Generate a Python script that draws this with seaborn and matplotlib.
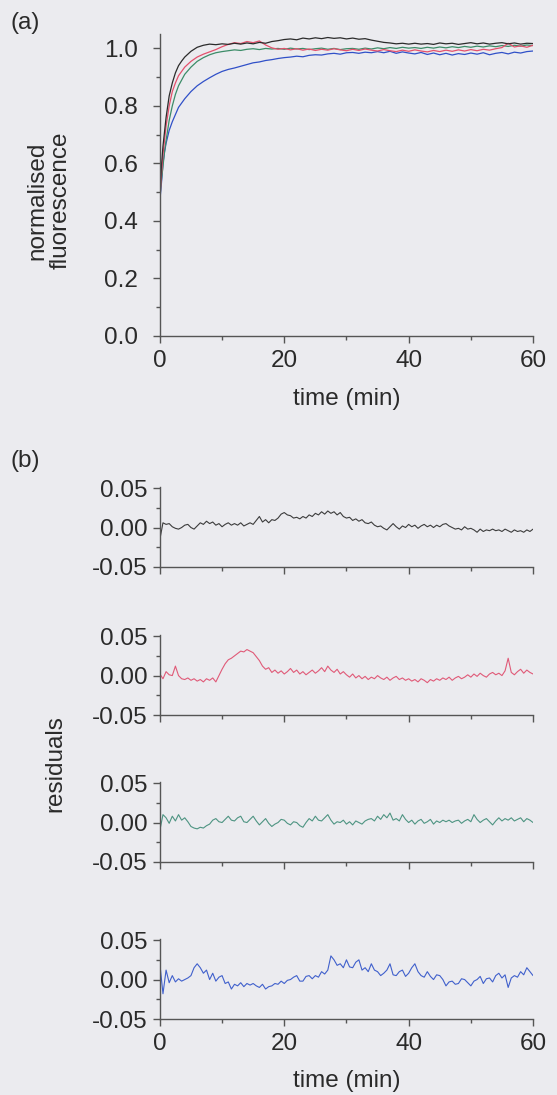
import matplotlib
matplotlib.use('Agg')
import numpy as np
import pandas as pd
import matplotlib.pyplot as plt
import seaborn as sns
from matplotlib.ticker import MultipleLocator, FormatStrFormatter

# --- data ---
TIME_FIT = [0, 0.25, 0.5, 0.75, 1, 1.5, 2, 2.5, 3, 3.5, 4, 5, 6, 7, 8, 9, 10,
            11, 12, 13, 14, 15, 16, 17, 18, 19, 20,
            21, 22, 23, 24, 25, 26, 27, 28, 29, 30,
            31, 32, 33, 34, 35, 36, 37, 38, 39, 40,
            41, 42, 43, 44, 45, 46, 47, 48, 49, 50,
            51, 52, 53, 54, 55, 56, 57, 58, 59, 60]

FLUO_BLACK = [0.48, 0.59, 0.66, 0.71, 0.76, 0.835, 0.88, 0.915, 0.94, 0.956, 0.97, 0.99, 1.004, 1.011, 1.015, 1.013, 1.016,
              1.014, 1.018, 1.015, 1.019, 1.016, 1.021, 1.018, 1.024, 1.027, 1.031,
              1.033, 1.030, 1.036, 1.033, 1.037, 1.034, 1.038, 1.035, 1.037, 1.033,
              1.036, 1.032, 1.034, 1.029, 1.025, 1.021, 1.019, 1.016, 1.018, 1.015,
              1.018, 1.015, 1.017, 1.014, 1.019, 1.016, 1.018, 1.014, 1.017, 1.020,
              1.016, 1.019, 1.015, 1.018, 1.020, 1.016, 1.019, 1.015, 1.018, 1.017]

FLUO_RED = [0.47, 0.56, 0.63, 0.68, 0.73, 0.80, 0.85, 0.88, 0.905, 0.92, 0.935, 0.955, 0.97, 0.98, 0.988, 0.996, 1.006,
            1.014, 1.020, 1.017, 1.024, 1.020, 1.026, 1.012, 1.002, 0.997, 1.000,
            0.995, 0.999, 0.994, 0.998, 0.993, 0.997, 0.994, 0.999, 0.995, 0.992,
            0.997, 0.993, 0.998, 0.994, 0.991, 0.996, 0.992, 0.989, 0.994, 0.990,
            0.995, 0.991, 0.988, 0.993, 0.989, 0.994, 0.990, 0.995, 0.991, 0.996,
            0.992, 0.997, 0.994, 0.999, 1.003, 1.018, 1.005, 1.009, 1.004, 1.011]

FLUO_GREEN = [0.48, 0.54, 0.59, 0.64, 0.68, 0.75, 0.80, 0.84, 0.87, 0.89, 0.91, 0.935, 0.955, 0.968, 0.978, 0.985, 0.989,
              0.992, 0.995, 0.993, 0.997, 0.999, 0.996, 1.000, 0.998, 1.000, 0.997,
              1.001, 0.998, 1.000, 0.996, 0.999, 1.001, 0.997, 1.000, 0.996, 0.999,
              1.000, 0.997, 1.001, 0.998, 1.002, 0.999, 1.003, 1.000, 1.004, 1.001,
              1.003, 1.000, 1.004, 1.001, 1.005, 1.002, 1.006, 1.003, 1.007, 1.004,
              1.008, 1.005, 1.009, 1.006, 1.010, 1.007, 1.011, 1.008, 1.012, 1.010]

FLUO_BLUE = [0.47, 0.53, 0.60, 0.64, 0.67, 0.715, 0.745, 0.77, 0.795, 0.81, 0.825, 0.85, 0.87, 0.885, 0.898, 0.91, 0.92,
             0.927, 0.932, 0.938, 0.944, 0.950, 0.953, 0.958, 0.961, 0.965, 0.968,
             0.970, 0.973, 0.971, 0.976, 0.978, 0.977, 0.981, 0.983, 0.980, 0.985,
             0.986, 0.983, 0.987, 0.985, 0.989, 0.985, 0.990, 0.983, 0.988, 0.984,
             0.981, 0.986, 0.979, 0.984, 0.978, 0.983, 0.977, 0.982, 0.979, 0.984,
             0.980, 0.985, 0.978, 0.983, 0.986, 0.981, 0.987, 0.984, 0.989, 0.991]

TIME_RES = [0, 0.5, 1, 1.5, 2, 2.5, 3, 3.5, 4, 4.5,
            5, 5.5, 6, 6.5, 7, 7.5, 8, 8.5, 9, 9.5,
            10, 10.5, 11, 11.5, 12, 12.5, 13, 13.5, 14, 14.5,
            15, 15.5, 16, 16.5, 17, 17.5, 18, 18.5, 19, 19.5,
            20, 20.5, 21, 21.5, 22, 22.5, 23, 23.5, 24, 24.5,
            25, 25.5, 26, 26.5, 27, 27.5, 28, 28.5, 29, 29.5,
            30, 30.5, 31, 31.5, 32, 32.5, 33, 33.5, 34, 34.5,
            35, 35.5, 36, 36.5, 37, 37.5, 38, 38.5, 39, 39.5,
            40, 40.5, 41, 41.5, 42, 42.5, 43, 43.5, 44, 44.5,
            45, 45.5, 46, 46.5, 47, 47.5, 48, 48.5, 49, 49.5,
            50, 50.5, 51, 51.5, 52, 52.5, 53, 53.5, 54, 54.5,
            55, 55.5, 56, 56.5, 57, 57.5, 58, 58.5, 59, 59.5,
            60]

RES_BLACK = [-0.015, 0.006, 0.004, 0.005, 0.001, -0.001, -0.002, 0.000, 0.003, 0.004,
             0.000, -0.002, 0.002, 0.006, 0.004, 0.008, 0.005, 0.007, 0.003, 0.005,
             0.001, 0.004, 0.006, 0.003, 0.005, 0.003, 0.006, 0.002, 0.004, 0.006,
             0.004, 0.009, 0.014, 0.007, 0.010, 0.006, 0.010, 0.009, 0.012, 0.017,
             0.019, 0.016, 0.015, 0.012, 0.013, 0.011, 0.014, 0.012, 0.016, 0.014,
             0.018, 0.016, 0.020, 0.017, 0.021, 0.018, 0.020, 0.016, 0.019, 0.014,
             0.012, 0.013, 0.009, 0.011, 0.008, 0.010, 0.006, 0.005, 0.007, 0.003,
             0.001, 0.002, -0.001, -0.003, 0.001, 0.005, 0.001, -0.002, 0.002, 0.000,
             0.004, 0.001, 0.003, -0.001, 0.002, 0.004, 0.001, 0.003, 0.000, 0.003,
             0.001, 0.004, 0.005, 0.002, 0.000, -0.002, -0.001, -0.003, 0.001, -0.002,
             -0.001, -0.003, -0.006, -0.002, -0.005, -0.003, -0.004, -0.002, -0.004, -0.003,
             -0.005, -0.002, -0.004, -0.006, -0.003, -0.005, -0.004, -0.006, -0.003, -0.005,
             -0.002]

RES_RED = [0.002, -0.004, 0.005, 0.001, 0.000, 0.012, 0.000, -0.004, -0.005, -0.003,
           -0.006, -0.004, -0.007, -0.005, -0.008, -0.004, -0.006, -0.003, -0.008, 0.000,
           0.008, 0.015, 0.020, 0.022, 0.025, 0.028, 0.031, 0.030, 0.033, 0.031,
           0.029, 0.024, 0.019, 0.012, 0.008, 0.010, 0.004, 0.007, 0.003, 0.006,
           0.002, 0.005, 0.009, 0.004, 0.007, 0.002, 0.005, 0.001, 0.004, 0.007,
           0.003, 0.006, 0.010, 0.005, 0.012, 0.007, 0.004, 0.008, 0.002, 0.005,
           0.001, -0.002, 0.002, -0.003, 0.000, -0.004, -0.001, -0.005, -0.002, -0.004,
           0.000, -0.003, -0.005, -0.002, -0.006, -0.003, -0.001, -0.005, -0.003, -0.006,
           -0.004, -0.007, -0.005, -0.008, -0.004, -0.006, -0.009, -0.005, -0.007, -0.004,
           -0.006, -0.003, -0.005, -0.002, -0.006, -0.003, -0.001, -0.004, -0.002, 0.001,
           -0.002, 0.002, -0.001, 0.003, 0.000, -0.002, 0.002, 0.004, 0.001, 0.003,
           0.000, 0.006, 0.022, 0.004, 0.001, 0.005, 0.008, 0.003, 0.007, 0.004,
           0.002]

RES_GREEN = [-0.010, 0.010, 0.006, -0.001, 0.008, 0.002, 0.010, 0.003, 0.006, 0.001,
             -0.005, -0.007, -0.008, -0.006, -0.007, -0.004, -0.002, 0.003, 0.005, 0.001,
             0.000, 0.004, 0.008, 0.003, 0.002, 0.006, 0.008, 0.001, 0.000, 0.004,
             0.008, 0.002, -0.003, 0.001, 0.005, -0.001, -0.005, -0.002, 0.000, 0.004,
             0.003, -0.001, -0.003, 0.001, 0.000, -0.004, -0.006, 0.000, 0.005, 0.002,
             0.008, 0.003, 0.002, 0.006, 0.010, 0.003, -0.002, 0.001, 0.000, 0.003,
             -0.002, 0.001, -0.003, 0.002, 0.000, -0.002, 0.002, 0.004, 0.005, 0.002,
             0.008, 0.004, 0.010, 0.006, 0.012, 0.003, 0.005, 0.002, 0.010, 0.004,
             0.000, 0.003, -0.002, 0.002, 0.004, -0.001, 0.001, 0.004, -0.002, 0.002,
             0.000, 0.003, 0.001, 0.003, 0.000, 0.002, 0.003, -0.001, 0.002, 0.004,
             0.001, 0.010, 0.004, 0.000, 0.003, 0.005, 0.001, -0.003, 0.002, 0.006,
             0.002, 0.005, 0.003, 0.006, 0.002, 0.004, 0.006, 0.001, 0.005, 0.003,
             0.000]

RES_BLUE = [0.020, -0.018, 0.012, -0.004, 0.005, -0.003, 0.001, -0.002, 0.000, 0.002,
            0.005, 0.015, 0.020, 0.015, 0.008, 0.012, 0.000, 0.008, -0.002, 0.003,
            0.005, -0.005, -0.003, -0.012, -0.006, -0.008, -0.004, -0.009, -0.005, -0.007,
            -0.005, -0.008, -0.010, -0.006, -0.012, -0.009, -0.008, -0.005, -0.006, -0.002,
            -0.005, -0.001, 0.000, 0.003, 0.005, -0.002, -0.002, 0.004, 0.005, 0.001,
            0.005, 0.003, 0.010, 0.007, 0.012, 0.030, 0.025, 0.018, 0.020, 0.015,
            0.025, 0.016, 0.015, 0.022, 0.025, 0.012, 0.015, 0.010, 0.020, 0.012,
            0.010, 0.005, 0.008, 0.012, 0.020, 0.006, 0.005, 0.010, 0.012, 0.004,
            0.008, 0.015, 0.020, 0.010, 0.005, 0.003, 0.010, 0.004, 0.000, 0.006,
            0.005, 0.000, -0.008, -0.003, -0.002, -0.006, -0.005, 0.001, 0.000, -0.004,
            -0.008, -0.002, 0.000, 0.004, -0.005, 0.001, 0.002, -0.003, 0.005, 0.008,
            0.002, 0.006, -0.010, 0.002, 0.005, 0.003, 0.010, 0.006, 0.015, 0.010,
            0.005]

TRACES = ['black', 'red', 'green', 'blue']
FIT_COLORS = ['#2b2b2b', '#e4506c', '#3c8c68', '#3050c8']
RES_COLORS = ['#3c3c3c', '#e05a78', '#4e9482', '#4060cc']

BG = '#ebebef'
AXC = '#555555'
FS = 17.5

sns.set_theme(style='ticks')
plt.rcParams['font.family'] = ['Liberation Sans', 'DejaVu Sans']
plt.rcParams['axes.unicode_minus'] = False
plt.rcParams['text.color'] = '#2a2a2a'


def style_axis(ax, ypad):
    ax.set_facecolor('none')
    for side in ['top', 'right']:
        ax.spines[side].set_visible(False)
    for side in ['left', 'bottom']:
        ax.spines[side].set_color(AXC)
        ax.spines[side].set_linewidth(1.0)
    ax.set_xlim(0, 60)
    ax.xaxis.set_major_locator(MultipleLocator(20))
    ax.xaxis.set_minor_locator(MultipleLocator(10))
    ax.tick_params(which='both', direction='out', color=AXC, width=1.0,
                   labelsize=FS, labelcolor='#2a2a2a')
    ax.tick_params(which='major', length=5)
    ax.tick_params(which='minor', length=3)
    ax.tick_params(axis='y', pad=ypad)
    ax.tick_params(axis='x', pad=5)
    ax.set_xlabel('')
    ax.set_ylabel('')


fig = plt.figure(figsize=(5.57, 10.95), dpi=100, facecolor=BG)

# --- (a) normalised fluorescence ---
fit_df = pd.DataFrame({
    'time': TIME_FIT * 4,
    'value': FLUO_BLACK + FLUO_RED + FLUO_GREEN + FLUO_BLUE,
    'trace': sum([[t] * len(TIME_FIT) for t in TRACES], []),
})
ax_a = fig.add_axes([0.287, 0.6932, 0.670, 0.2757])
sns.lineplot(data=fit_df, x='time', y='value', hue='trace', hue_order=TRACES[::-1],
             palette=dict(zip(TRACES, FIT_COLORS)), estimator=None, linewidth=0.9,
             legend=False, ax=ax_a)
style_axis(ax_a, ypad=11)
ax_a.set_ylim(0, 1.05)
ax_a.yaxis.set_major_locator(MultipleLocator(0.2))
ax_a.yaxis.set_minor_locator(MultipleLocator(0.1))
ax_a.yaxis.set_major_formatter(FormatStrFormatter('%.1f'))

# --- (b) residuals ---
res_series = [RES_BLACK, RES_RED, RES_GREEN, RES_BLUE]
res_bottoms = [0.4822, 0.3470, 0.2128, 0.0694]
for i, (vals, col, bot) in enumerate(zip(res_series, RES_COLORS, res_bottoms)):
    ax = fig.add_axes([0.287, bot, 0.670, 0.0735])
    df = pd.DataFrame({'time': TIME_RES, 'residual': vals})
    sns.lineplot(data=df, x='time', y='residual', color=col, linewidth=0.8,
                 estimator=None, ax=ax)
    style_axis(ax, ypad=4)
    ax.set_ylim(-0.05, 0.052)
    ax.set_yticks([-0.05, 0.0, 0.05])
    ax.yaxis.set_minor_locator(MultipleLocator(0.025))
    ax.yaxis.set_major_formatter(FormatStrFormatter('%.2f'))
    if i < 3:
        ax.tick_params(axis='x', labelbottom=False)

# --- labels ---
fig.text(0.045, 0.979, '(a)', fontsize=FS, ha='center', va='center')
fig.text(0.045, 0.579, '(b)', fontsize=FS, ha='center', va='center')
fig.text(0.088, 0.817, 'normalised\nfluorescence', fontsize=FS, rotation=90,
         ha='center', va='center', multialignment='center', linespacing=1.1)
fig.text(0.099, 0.303, 'residuals', fontsize=FS, rotation=90, ha='center', va='center')
fig.text(0.622, 0.6355, 'time (min)', fontsize=FS, ha='center', va='center')
fig.text(0.622, 0.0125, 'time (min)', fontsize=FS, ha='center', va='center')

fig.savefig('out.png', dpi=100, facecolor=BG)
